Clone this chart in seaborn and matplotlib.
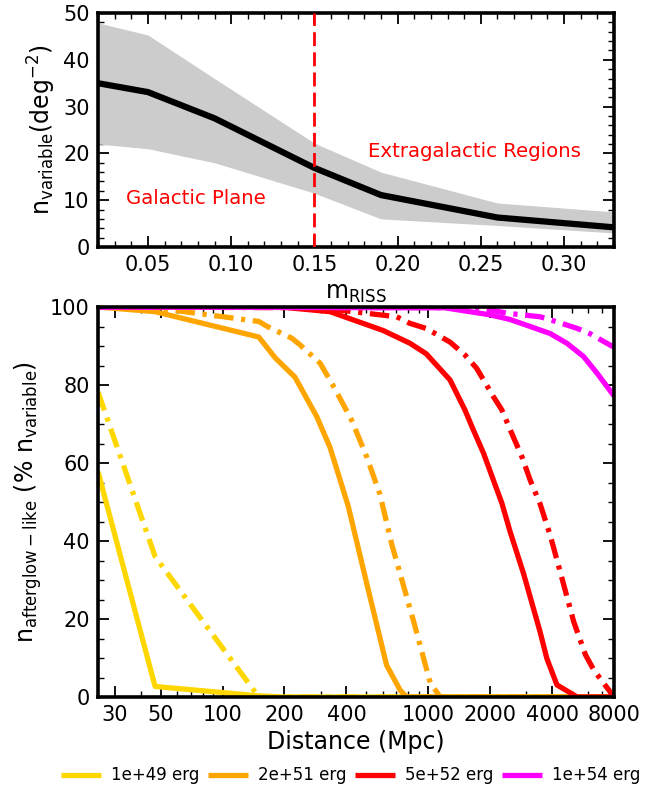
import numpy as np
import pandas as pd
import matplotlib
matplotlib.use("Agg")
import matplotlib.pyplot as plt
import seaborn as sns
from matplotlib.ticker import FixedLocator, FixedFormatter, MultipleLocator, LogLocator, NullFormatter

# ---------------- data: top panel ----------------
m_riss = [0.02, 0.05, 0.09, 0.15, 0.19, 0.26, 0.33]
n_var_mid = [35.0, 33.1, 27.5, 16.9, 11.1, 6.3, 4.2]
n_var_hi = [47.9, 45.3, 36.0, 22.2, 16.0, 9.4, 7.5]
n_var_lo = [22.0, 21.0, 18.0, 11.5, 6.0, 4.6, 3.0]
m_cut = 0.15

# ---------------- data: bottom panel ----------------
energy_labels = ["1e+49 erg", "2e+51 erg", "5e+52 erg", "1e+54 erg"]
energy_colors = ["#FFD700", "#FFA500", "#FF0000", "#FF00FF"]

d_e49_solid = [24.8, 47, 150, 200, 8000]
p_e49_solid = [57.8, 2.7, 0.3, 0.0, 0.0]
d_e49_dash = [24.8, 47, 150, 200, 8000]
p_e49_dash = [78.2, 36.0, 0.0, 0.0, 0.0]

d_e51_solid = [24.8, 47, 150, 180, 225, 287, 333, 408, 505, 627, 729, 786, 8000]
p_e51_solid = [100, 98.8, 92.3, 87.0, 82.0, 71.9, 64.0, 49.0, 28.6, 8.2, 1.8, 0.0, 0.0]
d_e51_dash = [24.8, 50, 150, 165, 217, 238, 298, 352, 424, 502, 582, 666, 846, 1023, 1144, 8000]
p_e51_dash = [100, 99.6, 96.3, 95.0, 92.0, 90.3, 85.6, 79.0, 71.0, 61.6, 52.0, 39.0, 19.7, 3.6, 0.0, 0.0]

d_e52_solid = [24.8, 200, 333, 602, 815, 978, 1276, 1508, 1656, 1857, 2074, 2280, 2500, 2904, 3498, 3771, 4224, 5300, 8000]
p_e52_solid = [100, 99.9, 98.8, 94.0, 90.7, 88.0, 81.3, 73.6, 68.5, 62.5, 55.6, 49.7, 42.4, 31.7, 16.7, 9.9, 3.1, 0.0, 0.0]
d_e52_dash = [24.8, 300, 481, 702, 815, 978, 1276, 1508, 1719, 1857, 2074, 2280, 2547, 2853, 3131, 3498, 3915, 4470, 5096, 5815, 6385, 8000]
p_e52_dash = [100, 99.8, 98.5, 97.5, 95.8, 94.5, 91.0, 87.7, 84.3, 81.3, 77.0, 73.6, 67.6, 61.6, 55.6, 49.5, 41.5, 30.4, 19.3, 10.8, 6.9, 0.0]

d_e54_solid = [24.8, 1200, 1782, 1995, 2500, 3131, 3915, 4722, 5690, 6625, 8000]
p_e54_solid = [100, 99.8, 98.4, 98.0, 96.8, 95.0, 93.2, 90.7, 87.3, 83.0, 77.2]
d_e54_dash = [24.8, 1800, 2412, 3498, 4224, 5300, 6095, 7218, 8000]
p_e54_dash = [100, 99.8, 98.4, 97.5, 96.2, 94.5, 93.2, 91.0, 89.7]

dist_ticks = [30, 50, 100, 200, 400, 1000, 2000, 4000, 8000]
dist_ticklabels = [str(t) for t in dist_ticks]

# ---------------- style ----------------
sns.set_style("ticks")
plt.rcParams["font.family"] = ["DejaVu Sans"]
plt.rcParams["mathtext.fontset"] = "dejavusans"
plt.rcParams["lines.scale_dashes"] = False
plt.rcParams["axes.linewidth"] = 2.4
for k in ["text.color", "axes.labelcolor", "xtick.color", "ytick.color", "axes.edgecolor"]:
    plt.rcParams[k] = "black"

fig = plt.figure(figsize=(6.59, 7.92), dpi=100)
ax1 = fig.add_axes([98/659, 1-247/792, 516/659, 234/792])
ax2 = fig.add_axes([98/659, 1-697/792, 516/659, 390/792])

def style_ticks(ax):
    ax.tick_params(which="both", direction="in", top=True, right=True, labelsize=15,
                   color="black", labelcolor="black")
    ax.tick_params(which="major", length=8, width=1.3, pad=6)
    ax.tick_params(which="minor", length=4, width=1.0)
    for s in ax.spines.values():
        s.set_linewidth(2.6)
        s.set_color("black")

# ---------------- top panel ----------------
top_df = pd.DataFrame({"m": m_riss, "mid": n_var_mid, "lo": n_var_lo, "hi": n_var_hi})
ax1.fill_between(top_df["m"], top_df["lo"], top_df["hi"], color="#CCCCCC", lw=0, zorder=1)
sns.lineplot(data=top_df, x="m", y="mid", color="black", lw=4.5, ax=ax1, zorder=3,
             estimator=None, sort=False)
ax1.axvline(m_cut, color="#FF0000", lw=2.0, linestyle=(0, (10, 4.5)), zorder=4)
ax1.text(0.037, 10.3, "Galactic Plane", color="#FF0000", fontsize=14.2, va="center", ha="left")
ax1.text(0.182, 20.3, "Extragalactic Regions", color="#FF0000", fontsize=14.2, va="center", ha="left")
ax1.set_xlim(0.02, 0.33)
ax1.set_ylim(0, 50)
ax1.xaxis.set_major_locator(FixedLocator([0.05, 0.10, 0.15, 0.20, 0.25, 0.30]))
ax1.xaxis.set_major_formatter(FixedFormatter(["0.05", "0.10", "0.15", "0.20", "0.25", "0.30"]))
ax1.xaxis.set_minor_locator(MultipleLocator(0.01))
ax1.yaxis.set_major_locator(MultipleLocator(10))
ax1.yaxis.set_minor_locator(MultipleLocator(2))
ax1.set_xlabel(r"$\mathrm{m_{RISS}}$", fontsize=17, labelpad=4)
ax1.set_ylabel(r"$\mathrm{n_{variable}(deg^{-2})}$", fontsize=17, labelpad=4)
style_ticks(ax1)

# ---------------- bottom panel ----------------
dashdot = (0, (14, 5.5, 3, 5.5))
curves = [
    (d_e49_solid, p_e49_solid, d_e49_dash, p_e49_dash),
    (d_e51_solid, p_e51_solid, d_e51_dash, p_e51_dash),
    (d_e52_solid, p_e52_solid, d_e52_dash, p_e52_dash),
    (d_e54_solid, p_e54_solid, d_e54_dash, p_e54_dash),
]
for (ds, ps, dd, pd_), lab, col in zip(curves, energy_labels, energy_colors):
    sns.lineplot(x=ds, y=ps, color=col, lw=3.8, ax=ax2, label=lab, estimator=None, sort=False,
                 solid_capstyle="butt")
    sns.lineplot(x=dd, y=pd_, color=col, lw=3.8, ax=ax2, linestyle=dashdot, estimator=None,
                 sort=False, dash_capstyle="butt")

ax2.set_xscale("log")
ax2.set_xlim(24.8, 8000)
ax2.set_ylim(0, 100)
ax2.xaxis.set_major_locator(FixedLocator(dist_ticks))
ax2.xaxis.set_major_formatter(FixedFormatter(dist_ticklabels))
ax2.xaxis.set_minor_locator(LogLocator(base=10, subs=np.arange(2, 10)))
ax2.xaxis.set_minor_formatter(NullFormatter())
ax2.yaxis.set_major_locator(MultipleLocator(20))
ax2.yaxis.set_minor_locator(MultipleLocator(5))
ax2.set_xlabel("Distance (Mpc)", fontsize=17, labelpad=3)
ax2.set_ylabel(r"$\mathrm{n_{afterglow-like}\ (\%\ n_{variable})}$", fontsize=17, labelpad=4)
style_ticks(ax2)

handles, labels = ax2.get_legend_handles_labels()
ax2.get_legend().remove()
fig.legend(handles, labels, loc="center", bbox_to_anchor=(0.532, 0.021), ncol=4, frameon=False,
           fontsize=12, handlelength=2.4, handletextpad=0.6, columnspacing=0.5)

fig.savefig("out.png", dpi=100)
